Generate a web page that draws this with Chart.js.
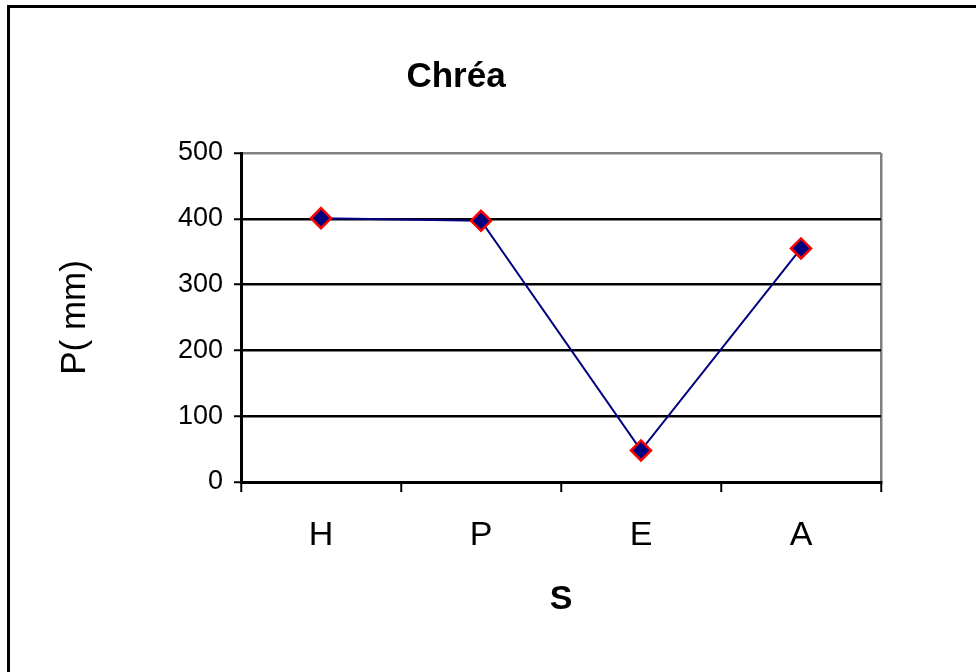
<!DOCTYPE html>
<html>
<head>
<meta charset="utf-8">
<script src="https://cdn.jsdelivr.net/npm/chart.js@4"></script>
<style>
  html, body { margin: 0; padding: 0; background: #ffffff; }
  #wrap { width: 976px; height: 672px; }
</style>
</head>
<body>
<div id="wrap"><canvas id="c" width="976" height="672"></canvas></div>
<script>
const categories = ['H', 'P', 'E', 'A'];
const precipitation = [401, 397, 48, 355];
const yTicks = [0, 100, 200, 300, 400, 500];
const chartTitle = 'Chréa';
const xTitle = 'S';
const yTitle = 'P( mm)';

const FONT = "'Liberation Sans', Arial, sans-serif";

const frame = {
  id: 'frame',
  beforeDraw(chart) {
    const ctx = chart.ctx;
    ctx.save();
    ctx.fillStyle = '#ffffff';
    ctx.fillRect(0, 0, chart.width, chart.height);
    ctx.restore();
  },
  afterDraw(chart) {
    const ctx = chart.ctx;
    ctx.save();
    ctx.strokeStyle = '#000000';
    ctx.lineWidth = 3;
    ctx.strokeRect(8.5, 6.5, 1200, 1200);
    ctx.restore();
  },
  afterLayout(chart) {
    const t = chart.titleBlock;
    if (t) { t.left = 0; t.right = 912; t.width = 912; }
  }
};

new Chart(document.getElementById('c'), {
  type: 'line',
  data: {
    labels: categories,
    datasets: [{
      data: precipitation,
      borderColor: '#000080',
      borderWidth: 2,
      backgroundColor: '#000080',
      pointStyle: 'rectRot',
      pointRadius: 10,
      pointHoverRadius: 10,
      pointBackgroundColor: '#000080',
      pointBorderColor: '#ff0000',
      pointBorderWidth: 2.5,
      tension: 0,
      fill: false
    }]
  },
  plugins: [frame],
  options: {
    responsive: false,
    animation: false,
    events: [],
    layout: { padding: { left: 0, top: 0, right: 95, bottom: 0 } },
    plugins: {
      legend: { display: false },
      tooltip: { enabled: false },
      title: {
        display: true,
        text: chartTitle,
        color: '#000000',
        font: { family: FONT, size: 35, weight: 'bold', lineHeight: 1.2 },
        padding: { top: 56, bottom: 55 }
      }
    },
    scales: {
      x: {
        type: 'category',
        offset: true,
        afterFit(s) { s.height = 190; s.paddingLeft = 0; s.paddingRight = 0; s.paddingTop = 0; s.paddingBottom = 0; },
        grid: {
          offset: true,
          drawOnChartArea: true,
          color: (c) => (c.type === 'scale' ? '#808080' : 'rgba(0,0,0,0)'),
          lineWidth: 2.5,
          tickColor: '#000000',
          tickLength: 10,
          tickWidth: 2
        },
        border: { display: true, color: '#000000', width: 3 },
        ticks: {
          color: '#000000',
          font: { family: FONT, size: 34 },
          padding: 23,
          maxRotation: 0,
          autoSkip: false
        },
        title: {
          display: true,
          text: xTitle,
          color: '#000000',
          font: { family: FONT, size: 34, weight: 'bold', lineHeight: 1.2 },
          padding: { top: 0, bottom: 51.6 }
        }
      },
      y: {
        min: 0,
        max: 500,
        afterFit(s) { s.width = 241; s.paddingLeft = 0; s.paddingRight = 0; s.paddingTop = 0; s.paddingBottom = 0; },
        afterBuildTicks(s) { s.ticks = yTicks.map(v => ({ value: v })); },
        grid: {
          color: (c) => {
            if (!c.tick) return 'rgba(0,0,0,0)';
            if (c.tick.value === 500) return '#808080';
            if (c.tick.value === 0) return 'rgba(0,0,0,0)';
            return '#000000';
          },
          lineWidth: 2.5,
          tickColor: '#000000',
          tickLength: 7,
          tickWidth: 2
        },
        border: { display: true, color: '#000000', width: 3 },
        ticks: {
          color: '#000000',
          font: { family: FONT, size: 27 },
          padding: 11
        },
        title: {
          display: true,
          text: yTitle,
          color: '#000000',
          font: { family: FONT, size: 35, lineHeight: 1.2 },
          padding: { top: 54, bottom: 0 }
        }
      }
    }
  }
});
</script>
</body>
</html>
